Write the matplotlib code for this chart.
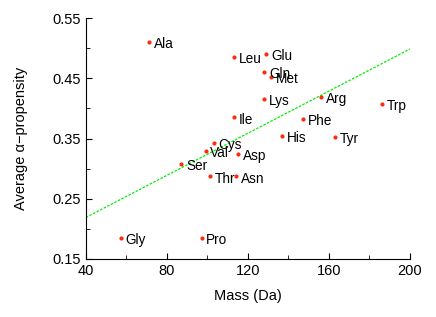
import matplotlib
matplotlib.use('Agg')
import matplotlib.pyplot as plt
from matplotlib.ticker import MultipleLocator

plt.rcParams['font.family'] = ['Liberation Sans', 'DejaVu Sans']

residues = ['Ala', 'Leu', 'Glu', 'Gln', 'Met', 'Lys', 'Arg', 'Trp', 'Ile', 'Phe',
            'His', 'Tyr', 'Cys', 'Val', 'Asp', 'Ser', 'Thr', 'Asn', 'Gly', 'Pro']
mass = [71.1, 113.2, 129.1, 128.1, 131.2, 128.2, 156.2, 186.2, 113.2, 147.2,
        137.1, 163.2, 103.1, 99.1, 115.1, 87.1, 101.1, 114.1, 57.1, 97.1]
propensity = [0.510, 0.485, 0.490, 0.460, 0.452, 0.416, 0.419, 0.408, 0.385, 0.382,
              0.355, 0.352, 0.343, 0.330, 0.325, 0.308, 0.287, 0.287, 0.185, 0.185]

fit_x = [40, 200]
fit_y = [0.219, 0.4985]

fig = plt.figure(figsize=(4.36, 3.17), dpi=100)
ax = fig.add_axes([0.197, 0.183, 0.743, 0.760])

ax.plot(fit_x, fit_y, color='#00ee00', linestyle=(0, (2, 1.2)), linewidth=0.9)
ax.scatter(mass, propensity, s=9, color='#ff2a10', zorder=3, linewidths=0)

for name, x, y in zip(residues, mass, propensity):
    ax.annotate(name, (x, y), xytext=(3.5, -1.5), textcoords='offset points',
                fontsize=9.8, va='center', ha='left')

ax.set_xlim(40, 200)
ax.set_ylim(0.15, 0.55)
ax.xaxis.set_major_locator(MultipleLocator(40))
ax.xaxis.set_minor_locator(MultipleLocator(20))
ax.yaxis.set_minor_locator(MultipleLocator(0.05))
ax.set_yticks([0.15, 0.25, 0.35, 0.45, 0.55])
ax.set_yticklabels(['0.15', '0.25', '0.35', '0.45', '0.55'])

ax.tick_params(which='both', direction='in', labelsize=10.5)
ax.tick_params(which='major', length=4)
ax.tick_params(which='minor', length=3)
ax.spines['top'].set_visible(False)
ax.spines['right'].set_visible(False)

ax.set_xlabel('Mass (Da)', fontsize=10.5, labelpad=8)
ax.set_ylabel('Average \u03b1\u2212propensity', fontsize=10.5, labelpad=18)

fig.savefig('out.png', dpi=100)
